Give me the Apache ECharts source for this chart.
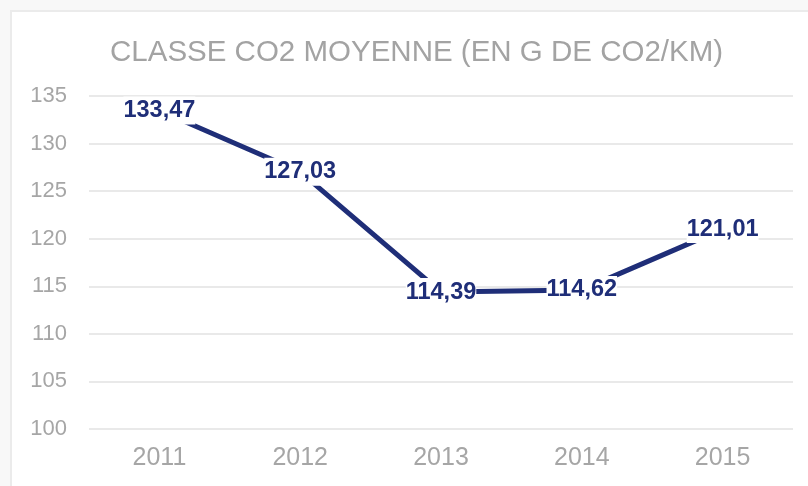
<!DOCTYPE html>
<html>
<head>
<meta charset="utf-8">
<script src="https://cdn.jsdelivr.net/npm/echarts@6/dist/echarts.min.js"></script>
<style>
html,body{margin:0;padding:0;background:#f8f8f8;}
#c{width:808px;height:486px;}
</style>
</head>
<body>
<div id="c"></div>
<script>
const categories = ['2011', '2012', '2013', '2014', '2015'];
const co2Values = [133.47, 127.03, 114.39, 114.62, 121.01];
const yTicks = [100, 105, 110, 115, 120, 125, 130, 135];
const titleText = 'CLASSE CO2 MOYENNE (EN G DE CO2/KM)';

const chart = echarts.init(document.getElementById('c'), null, {renderer: 'canvas'});
const FONT = '"Liberation Sans", Arial, sans-serif';
chart.setOption({
  backgroundColor: '#f8f8f8',
  animation: false,
  graphic: [{
    type: 'rect', left: 10, top: 10, z: -10, silent: true,
    shape: {width: 810, height: 490},
    style: {fill: '#ffffff', stroke: '#ebebeb', lineWidth: 2}
  }],
  title: {
    text: titleText, left: 105, top: 33,
    textStyle: {fontFamily: FONT, fontSize: 29.5, fontWeight: 'normal', color: '#a3a3a3'}
  },
  grid: {left: 89, right: 15, top: 96, bottom: 57, containLabel: false},
  xAxis: {
    type: 'category', data: categories, boundaryGap: true,
    axisLine: {show: false}, axisTick: {show: false},
    axisLabel: {fontFamily: FONT, fontSize: 25, color: '#a6a6a6', margin: 17}
  },
  yAxis: {
    type: 'value', min: yTicks[0], max: yTicks[yTicks.length - 1], interval: 5,
    axisLine: {show: false}, axisTick: {show: false},
    splitLine: {lineStyle: {color: '#e9e9e9', width: 2}},
    axisLabel: {fontFamily: FONT, fontSize: 22, color: '#a6a6a6', margin: 22}
  },
  series: [{
    type: 'line', data: co2Values,
    symbol: 'circle', symbolSize: 1,
    itemStyle: {color: '#1f2e78'},
    lineStyle: {color: '#1f2e78', width: 5},
    label: {
      show: true, position: 'inside',
      fontFamily: FONT, fontSize: 23.5, fontWeight: 'bold', color: '#1f2e78',
      backgroundColor: '#ffffff', padding: [1, 0, 3, 0],
      formatter: p => p.value.toFixed(2).replace('.', ',')
    }
  }]
});
</script>
</body>
</html>
